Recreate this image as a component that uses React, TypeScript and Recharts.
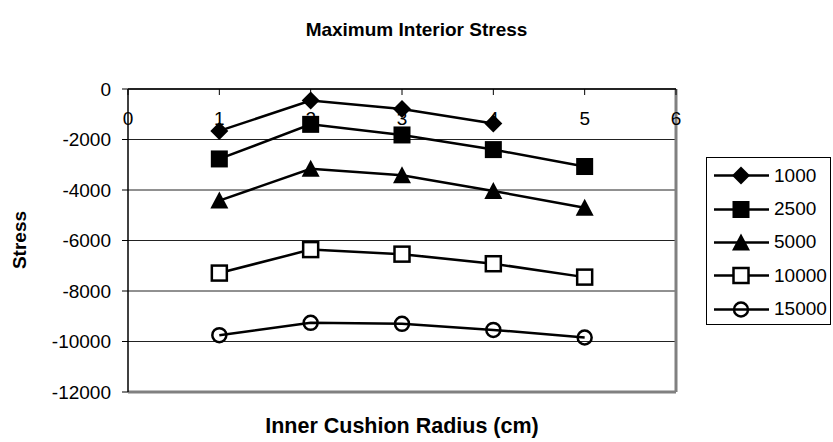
import React from 'react';
import { LineChart, Line, XAxis, YAxis, CartesianGrid, ReferenceLine } from 'recharts';

const radii = [1, 2, 3, 4, 5];
const s1000 = [-1660, -460, -790, -1370, null];
const s2500 = [-2770, -1400, -1820, -2400, -3070];
const s5000 = [-4420, -3160, -3420, -4040, -4700];
const s10000 = [-7290, -6360, -6540, -6920, -7450];
const s15000 = [-9750, -9260, -9300, -9540, -9840];
const xTicks = [0, 1, 2, 3, 4, 5, 6];
const yTicks = [0, -2000, -4000, -6000, -8000, -10000, -12000];
const seriesNames = ['1000', '2500', '5000', '10000', '15000'];
const seriesKeys = ['s1000', 's2500', 's5000', 's10000', 's15000'];
const markers = ['diamond', 'square', 'triangle', 'openSquare', 'openCircle'];

const data = radii.map((r, i) => ({
  r,
  s1000: s1000[i],
  s2500: s2500[i],
  s5000: s5000[i],
  s10000: s10000[i],
  s15000: s15000[i],
}));

const FONT = 'Arial, "Liberation Sans", sans-serif';

function markerShape(kind: string, cx: number, cy: number, key?: any) {
  switch (kind) {
    case 'diamond':
      return <path key={key} d={`M${cx},${cy - 9}L${cx + 9},${cy}L${cx},${cy + 9}L${cx - 9},${cy}Z`} fill="#000" />;
    case 'square':
      return <rect key={key} x={cx - 8.5} y={cy - 8.5} width={17} height={17} fill="#000" />;
    case 'triangle':
      return <path key={key} d={`M${cx},${cy - 9}L${cx + 9},${cy + 8}L${cx - 9},${cy + 8}Z`} fill="#000" />;
    case 'openSquare':
      return <rect key={key} x={cx - 7.5} y={cy - 7.5} width={15} height={15} fill="#fff" stroke="#000" strokeWidth={2.5} />;
    default:
      return <circle key={key} cx={cx} cy={cy} r={7} fill="none" stroke="#000" strokeWidth={2.5} />;
  }
}

const makeDot = (kind: string) => (props: any) => {
  const { cx, cy, index, value } = props;
  if (cx == null || cy == null || value == null || Number.isNaN(cy)) return <g key={`e-${kind}-${index}`} />;
  return markerShape(kind, cx, cy, `d-${kind}-${index}`);
};

// X tick drawn below the axis line (inside the plot), with its tick mark pointing down
const XTick = (props: any) => {
  const { x, y, payload } = props;
  const axisY = y + 8;
  return (
    <g>
      <line x1={x} y1={axisY} x2={x} y2={axisY + 6} stroke="#000" strokeWidth={1} />
      <text x={x} y={axisY + 36} textAnchor="middle" fill="#000" fontSize={19} fontFamily={FONT}>
        {payload.value}
      </text>
    </g>
  );
};

export default function App() {
  return (
    <div style={{ position: 'absolute', left: 0, top: 0, width: 833, height: 442, background: '#fff', fontFamily: FONT }}>
      <div style={{ position: 'absolute', left: 0, top: 19, width: 833, textAlign: 'center', fontWeight: 'bold', fontSize: 19, color: '#000' }}>
        Maximum Interior Stress
      </div>
      <div style={{ position: 'absolute', left: 20, top: 240, transform: 'translate(-50%, -50%) rotate(-90deg)', fontWeight: 'bold', fontSize: 19, color: '#000', whiteSpace: 'nowrap' }}>
        Stress
      </div>
      <div style={{ position: 'absolute', left: 128, width: 548, top: 414, textAlign: 'center', fontWeight: 'bold', fontSize: 21.5, color: '#000', whiteSpace: 'nowrap' }}>
        Inner Cushion Radius (cm)
      </div>
      <LineChart
        width={833}
        height={442}
        data={data}
        margin={{ top: 59, right: 157, bottom: 50, left: 8 }}
        style={{ fontFamily: FONT }}
      >
        <CartesianGrid horizontal vertical={false} stroke="#222" strokeWidth={1} />
        <XAxis
          type="number"
          dataKey="r"
          domain={[0, 6]}
          ticks={xTicks}
          interval={0}
          orientation="top"
          height={30}
          tickSize={6}
          tickMargin={2}
          tick={<XTick />}
          tickLine={false}
          axisLine={{ stroke: '#000', strokeWidth: 1.5 }}
        />
        <YAxis
          type="number"
          domain={[-12000, 0]}
          ticks={yTicks}
          interval={0}
          width={120}
          tickSize={6}
          tickMargin={11}
          tick={{ fill: '#000', fontSize: 19 }}
          axisLine={{ stroke: '#000', strokeWidth: 1.5 }}
          tickLine={{ stroke: '#000' }}
        />
        <ReferenceLine x={6} stroke="#808080" strokeWidth={3} />
        <ReferenceLine y={-12000} stroke="#808080" strokeWidth={3} />
        {seriesKeys.map((k, i) => (
          <Line
            key={k}
            type="linear"
            dataKey={k}
            name={seriesNames[i]}
            stroke="#000"
            strokeWidth={2.5}
            dot={makeDot(markers[i])}
            activeDot={false}
            isAnimationActive={false}
          />
        ))}
      </LineChart>
      <div style={{ position: 'absolute', left: 706, top: 157, width: 123, height: 166, border: '1px solid #000', background: '#fff' }}>
        {seriesNames.map((n, i) => (
          <div key={n} style={{ position: 'absolute', left: 0, top: 1 + i * 33.4, height: 33.4, width: 123, display: 'flex', alignItems: 'center' }}>
            <svg width={66} height={33} style={{ display: 'block' }}>
              <line x1={7} y1={16.5} x2={62} y2={16.5} stroke="#000" strokeWidth={2.5} />
              {markerShape(markers[i], 34, 16.5)}
            </svg>
            <span style={{ fontSize: 19, color: '#000', marginLeft: 1 }}>{n}</span>
          </div>
        ))}
      </div>
    </div>
  );
}
